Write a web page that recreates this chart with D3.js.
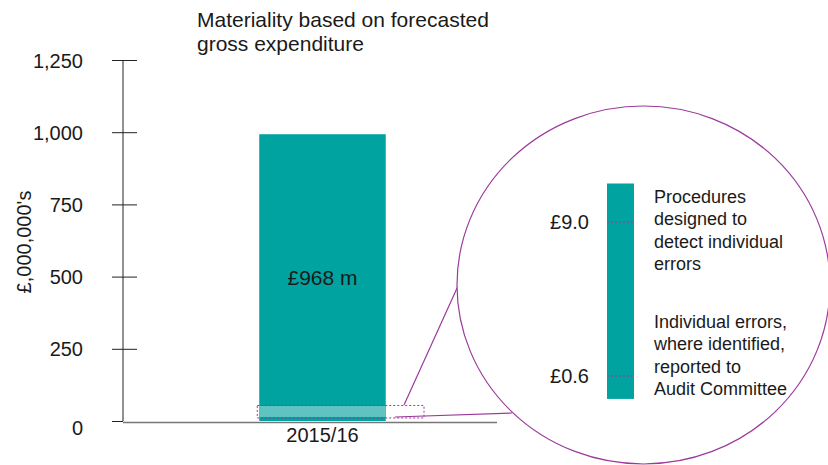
<!DOCTYPE html>
<html>
<head>
<meta charset="utf-8">
<script src="https://cdn.jsdelivr.net/npm/d3@7"></script>
<style>
  body { margin: 0; background: #fff; }
  text { font-family: "Liberation Sans", Arial, sans-serif; fill: #1a1a1a; }
</style>
</head>
<body>
<div id="chart"></div>
<script>
// data
const categories = ["2015/16"];
const barValues = [993];          // bar height
const barLabels = ["£968 m"];
const yTicks = [0, 250, 500, 750, 1000, 1250];
const bandValues = [14, 52];      // highlighted slice at the bar's base
const zoomMarks = [9.0, 0.6];
const zoomMarkLabels = ["£9.0", "£0.6"];
const zoomNotes = [
  ["Procedures", "designed to", "detect individual", "errors"],
  ["Individual errors,", "where identified,", "reported to", "Audit Committee"]
];

const svgWidth = 828;
const svgHeight = 465;
const teal = "#00a3a0";
const lightTeal = "#5ec3c1";
const purple = "#9b3a9b";

const svg = d3.select("#chart")
  .append("svg")
  .attr("width", svgWidth)
  .attr("height", svgHeight);

const yScale = d3.scaleLinear().domain([0, 1250]).range([421, 60]);
const xScale = d3.scaleBand().domain(categories).range([196, 449])
  .paddingInner(0.5).paddingOuter(0.25);

// title
const title = svg.append("text").attr("x", 197).attr("y", 27).style("font-size", "21px");
title.append("tspan").attr("x", 197).text("Materiality based on forecasted");
title.append("tspan").attr("x", 197).attr("dy", 24).text("gross expenditure");

// y axis
const yAxis = svg.append("g")
  .attr("transform", "translate(123,0)")
  .call(d3.axisLeft(yScale).tickValues(yTicks).tickSize(11).tickPadding(29).tickFormat(d3.format(",")));
yAxis.select(".domain").attr("stroke", "#222").attr("d", `M0,${yScale(1250)}V${yScale(0)}`);
yAxis.selectAll(".tick line").attr("x1", -11).attr("x2", 14).attr("stroke", "#222");
yAxis.selectAll(".tick line").filter(d => d === 0).attr("x2", 0);
yAxis.selectAll(".tick text").style("font-size", "20px").attr("fill", "#1a1a1a")
  .attr("x", -40).attr("dy", "0.35em");
yAxis.selectAll(".tick text").filter(d => d === 0).attr("y", 6);

svg.append("text")
  .attr("transform", "translate(31,242) rotate(-90)")
  .attr("text-anchor", "middle")
  .style("font-size", "20px")
  .text("£,000,000's");

// bar
svg.selectAll(".bar")
  .data(barValues)
  .enter()
  .append("rect")
  .attr("x", (d, i) => xScale(categories[i]))
  .attr("y", d => yScale(d))
  .attr("width", xScale.bandwidth())
  .attr("height", d => yScale(0) - yScale(d))
  .attr("fill", teal);

svg.append("rect")
  .attr("x", xScale(categories[0]))
  .attr("y", yScale(bandValues[1]))
  .attr("width", xScale.bandwidth())
  .attr("height", yScale(bandValues[0]) - yScale(bandValues[1]))
  .attr("fill", lightTeal);

svg.selectAll(".barLabel")
  .data(barLabels)
  .enter()
  .append("text")
  .attr("x", (d, i) => xScale(categories[i]) + xScale.bandwidth() / 2)
  .attr("y", 285)
  .attr("text-anchor", "middle")
  .style("font-size", "21px")
  .text(d => d);

// x axis
svg.append("line")
  .attr("x1", 123).attr("x2", 497)
  .attr("y1", 422.5).attr("y2", 422.5)
  .attr("stroke", "#777").attr("stroke-width", 1.5);
svg.append("text")
  .attr("x", xScale(categories[0]) + xScale.bandwidth() / 2)
  .attr("y", 442)
  .attr("text-anchor", "middle")
  .style("font-size", "20px")
  .text(categories[0]);

// dashed selection box
const boxX = xScale(categories[0]) - 2;
svg.append("rect")
  .attr("x", boxX).attr("y", yScale(bandValues[1]) - 0.5)
  .attr("width", 424 - boxX).attr("height", yScale(bandValues[0]) - yScale(bandValues[1]) + 1.5)
  .attr("fill", "none")
  .attr("stroke", purple).attr("stroke-width", 1)
  .attr("stroke-dasharray", "2,2");

// callout lines and magnifier
svg.append("line")
  .attr("x1", 404).attr("y1", 405).attr("x2", 458).attr("y2", 286)
  .attr("stroke", purple).attr("stroke-width", 1.2);
svg.append("line")
  .attr("x1", 395).attr("y1", 417).attr("x2", 512).attr("y2", 413)
  .attr("stroke", purple).attr("stroke-width", 1.2);
svg.append("ellipse")
  .attr("cx", 643.5).attr("cy", 285).attr("rx", 186.5).attr("ry", 179)
  .attr("fill", "#fff")
  .attr("stroke", purple).attr("stroke-width", 1.2);

// zoomed bar
const zScale = d3.scaleLinear().domain([0.6, 9.0]).range([376, 222]);
svg.append("rect")
  .attr("x", 607).attr("width", 27)
  .attr("y", zScale(11.1)).attr("height", zScale(-0.65) - zScale(11.1))
  .attr("fill", teal);

svg.selectAll(".zmark")
  .data(zoomMarks)
  .enter()
  .append("line")
  .attr("x1", 607).attr("x2", 634)
  .attr("y1", d => zScale(d)).attr("y2", d => zScale(d))
  .attr("stroke", purple).attr("stroke-width", 1)
  .attr("stroke-dasharray", "2,2");

svg.selectAll(".zlabel")
  .data(zoomMarks)
  .enter()
  .append("text")
  .attr("x", 589)
  .attr("y", d => zScale(d))
  .attr("dy", "0.35em")
  .attr("text-anchor", "end")
  .style("font-size", "20px")
  .text((d, i) => zoomMarkLabels[i]);

const noteTops = [203, 328];
zoomNotes.forEach((lines, i) => {
  const t = svg.append("text").attr("x", 654).attr("y", noteTops[i]).style("font-size", "18px");
  lines.forEach((l, j) => {
    t.append("tspan").attr("x", 654).attr("dy", j === 0 ? 0 : 22.3).text(l);
  });
});
</script>
</body>
</html>
